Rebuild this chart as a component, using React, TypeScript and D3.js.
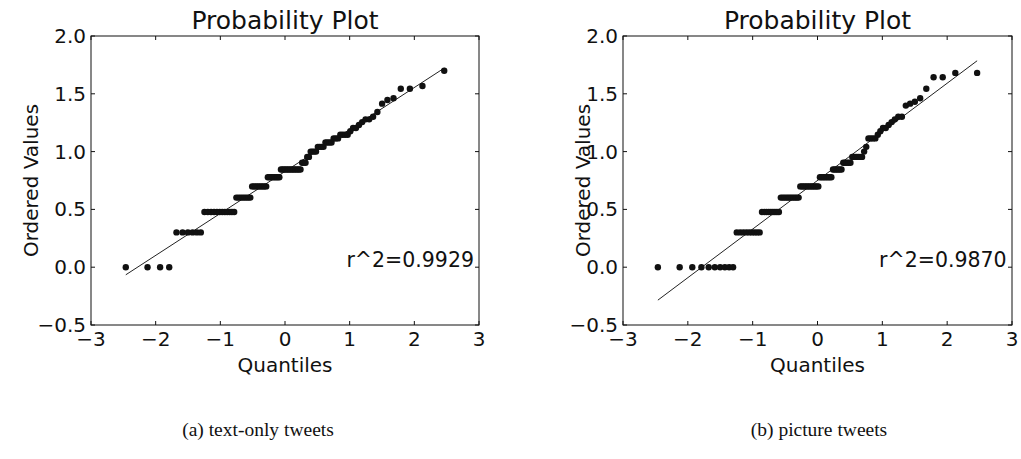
import React from "react";
import * as d3 from "d3";

// Ordered (sorted) log10 values for each sample, 100 observations each.
const TEXT_ONLY_VALUES = [
  0, 0, 0, 0,
  0.301, 0.301, 0.301, 0.301, 0.301, 0.301,
  0.477, 0.477, 0.477, 0.477, 0.477, 0.477, 0.477, 0.477, 0.477, 0.477, 0.477, 0.477,
  0.602, 0.602, 0.602, 0.602, 0.602, 0.602, 0.602, 0.602,
  0.699, 0.699, 0.699, 0.699, 0.699, 0.699, 0.699, 0.699, 0.699,
  0.778, 0.778, 0.778, 0.778, 0.778, 0.778, 0.778, 0.778,
  0.845, 0.845, 0.845, 0.845, 0.845, 0.845, 0.845, 0.845, 0.845, 0.845, 0.845, 0.845, 0.845,
  0.903, 0.903, 0.903,
  0.954, 0.954,
  1.0, 1.0, 1.0, 1.0,
  1.041, 1.041, 1.041, 1.041,
  1.079, 1.079, 1.079, 1.079,
  1.114, 1.114, 1.114,
  1.146, 1.146, 1.146, 1.146,
  1.176,
  1.204, 1.204,
  1.23,
  1.255,
  1.279, 1.279,
  1.301,
  1.342, 1.415, 1.447, 1.462, 1.544, 1.544, 1.568, 1.699,
];

const PICTURE_VALUES = [
  0, 0, 0, 0, 0, 0, 0, 0, 0, 0,
  0.301, 0.301, 0.301, 0.301, 0.301, 0.301, 0.301, 0.301, 0.301,
  0.477, 0.477, 0.477, 0.477, 0.477, 0.477, 0.477, 0.477, 0.477,
  0.602, 0.602, 0.602, 0.602, 0.602, 0.602, 0.602, 0.602, 0.602, 0.602, 0.602,
  0.699, 0.699, 0.699, 0.699, 0.699, 0.699, 0.699, 0.699, 0.699, 0.699, 0.699, 0.699,
  0.778, 0.778, 0.778, 0.778, 0.778, 0.778, 0.778, 0.778,
  0.845, 0.845, 0.845, 0.845, 0.845, 0.845,
  0.903, 0.903, 0.903, 0.903, 0.903,
  0.954, 0.954, 0.954, 0.954, 0.954, 0.954,
  1.0,
  1.041,
  1.114, 1.114, 1.114, 1.114,
  1.146,
  1.176,
  1.204, 1.204,
  1.23,
  1.255,
  1.279,
  1.301, 1.301,
  1.398, 1.415, 1.431, 1.462, 1.544, 1.643, 1.643, 1.681, 1.681,
];

const X_TICKS = [-3, -2, -1, 0, 1, 2, 3];
const Y_TICKS = [-0.5, 0.0, 0.5, 1.0, 1.5, 2.0];
const X_DOMAIN = [-3, 3];
const Y_DOMAIN = [-0.5, 2.0];

const TITLE = "Probability Plot";
const X_LABEL = "Quantiles";
const Y_LABEL = "Ordered Values";
const R2_LABELS = ["r^2=0.9929", "r^2=0.9870"];
const CAPTIONS = ["(a) text-only tweets", "(b) picture tweets"];

const FONT = "'DejaVu Sans', sans-serif";
const SERIF = "'Liberation Serif', 'DejaVu Serif', serif";

// Inverse of the standard normal CDF (Acklam's rational approximation).
function normInv(p: number): number {
  const a = [-3.969683028665376e1, 2.209460984245205e2, -2.759285104469687e2, 1.38357751867269e2, -3.066479806614716e1, 2.506628277459239];
  const b = [-5.447609879822406e1, 1.615858368580409e2, -1.556989798598866e2, 6.680131188771972e1, -1.328068155288572e1];
  const c = [-7.784894002430293e-3, -3.223964580411365e-1, -2.400758277161838, -2.549732539343734, 4.374664141464968, 2.938163982698783];
  const d = [7.784695709041462e-3, 3.224671290700398e-1, 2.445134137142996, 3.754408661907416];
  const pl = 0.02425;
  if (p < pl) {
    const q = Math.sqrt(-2 * Math.log(p));
    return (((((c[0] * q + c[1]) * q + c[2]) * q + c[3]) * q + c[4]) * q + c[5]) /
      ((((d[0] * q + d[1]) * q + d[2]) * q + d[3]) * q + 1);
  }
  if (p <= 1 - pl) {
    const q = p - 0.5;
    const r = q * q;
    return ((((((a[0] * r + a[1]) * r + a[2]) * r + a[3]) * r + a[4]) * r + a[5]) * q) /
      (((((b[0] * r + b[1]) * r + b[2]) * r + b[3]) * r + b[4]) * r + 1);
  }
  const q = Math.sqrt(-2 * Math.log(1 - p));
  return -(((((c[0] * q + c[1]) * q + c[2]) * q + c[3]) * q + c[4]) * q + c[5]) /
    ((((d[0] * q + d[1]) * q + d[2]) * q + d[3]) * q + 1);
}

// Theoretical quantiles from Filliben's order-statistic medians.
function theoreticalQuantiles(n: number): number[] {
  const m: number[] = [];
  for (let i = 1; i <= n; i++) {
    if (i === 1) m.push(1 - Math.pow(0.5, 1 / n));
    else if (i === n) m.push(Math.pow(0.5, 1 / n));
    else m.push((i - 0.3175) / (n + 0.365));
  }
  return m.map(normInv);
}

function leastSquares(xs: number[], ys: number[]) {
  const mx = d3.mean(xs) as number;
  const my = d3.mean(ys) as number;
  let sxy = 0;
  let sxx = 0;
  xs.forEach((x, i) => {
    sxy += (x - mx) * (ys[i] - my);
    sxx += (x - mx) * (x - mx);
  });
  const slope = sxy / sxx;
  return { slope, intercept: my - slope * mx };
}

const fmtY = (v: number) => (v < 0 ? "\u2212" : "") + Math.abs(v).toFixed(1);
const fmtX = (v: number) => (v < 0 ? "\u2212" : "") + Math.abs(v).toString();

type PanelProps = {
  x0: number;
  x1: number;
  top: number;
  bottom: number;
  values: number[];
  r2: string;
  caption: string;
  captionX: number;
  yLabelX: number;
};

function Panel({ x0, x1, top, bottom, values, r2, caption, captionX, yLabelX }: PanelProps) {
  const x = d3.scaleLinear().domain(X_DOMAIN).range([x0, x1]);
  const y = d3.scaleLinear().domain(Y_DOMAIN).range([bottom, top]);
  const osm = theoreticalQuantiles(values.length);
  const fit = leastSquares(osm, values);
  const ends = d3.extent(osm) as [number, number];
  const line = d3
    .line<number>()
    .x((q) => x(q))
    .y((q) => y(fit.slope * q + fit.intercept));
  const tickLen = 4;
  const cx = (x0 + x1) / 2;
  const cy = (top + bottom) / 2;

  return (
    <g>
      <path d={line(ends) ?? ""} fill="none" stroke="#222" strokeWidth={1} />
      {values.map((v, i) => (
        <circle key={i} cx={x(osm[i])} cy={y(v)} r={3.2} fill="#111" />
      ))}
      <rect x={x0} y={top} width={x1 - x0} height={bottom - top} fill="none" stroke="#111" strokeWidth={1} />
      {X_TICKS.map((t) => (
        <g key={"xt" + t}>
          <line x1={x(t)} x2={x(t)} y1={bottom} y2={bottom - tickLen} stroke="#111" />
          <line x1={x(t)} x2={x(t)} y1={top} y2={top + tickLen} stroke="#111" />
          <text x={x(t)} y={bottom + 21} textAnchor="middle" fontSize={20} fontFamily={FONT} fill="#111">
            {fmtX(t)}
          </text>
        </g>
      ))}
      {Y_TICKS.map((t) => (
        <g key={"yt" + t}>
          <line x1={x0} x2={x0 + tickLen} y1={y(t)} y2={y(t)} stroke="#111" />
          <line x1={x1} x2={x1 - tickLen} y1={y(t)} y2={y(t)} stroke="#111" />
          <text x={x0 - 5} y={y(t) + 7} textAnchor="end" fontSize={20} fontFamily={FONT} fill="#111">
            {fmtY(t)}
          </text>
        </g>
      ))}
      <text x={x(0.95)} y={y(0)} fontSize={20.5} fontFamily={FONT} fill="#111">
        {r2}
      </text>
      <text x={cx} y={top - 7} textAnchor="middle" fontSize={25} fontFamily={FONT} fill="#111">
        {TITLE}
      </text>
      <text x={cx} y={bottom + 47} textAnchor="middle" fontSize={20} fontFamily={FONT} fill="#111">
        {X_LABEL}
      </text>
      <text
        transform={`translate(${yLabelX},${cy}) rotate(-90)`}
        textAnchor="middle"
        fontSize={20}
        fontFamily={FONT}
        fill="#111"
      >
        {Y_LABEL}
      </text>
      <text x={captionX} y={436} textAnchor="middle" fontSize={19.5} fontFamily={SERIF} fill="#111">
        {caption}
      </text>
    </g>
  );
}

export default function App() {
  return (
    <svg
      width={1021}
      height={459}
      style={{ position: "absolute", left: 0, top: 0, background: "#fff" }}
    >
      <Panel x0={91} x1={479} top={36} bottom={325} values={TEXT_ONLY_VALUES} r2={R2_LABELS[0]} caption={CAPTIONS[0]} captionX={258} yLabelX={38} />
      <Panel x0={623} x1={1012} top={36} bottom={325} values={PICTURE_VALUES} r2={R2_LABELS[1]} caption={CAPTIONS[1]} captionX={819} yLabelX={590} />
    </svg>
  );
}
